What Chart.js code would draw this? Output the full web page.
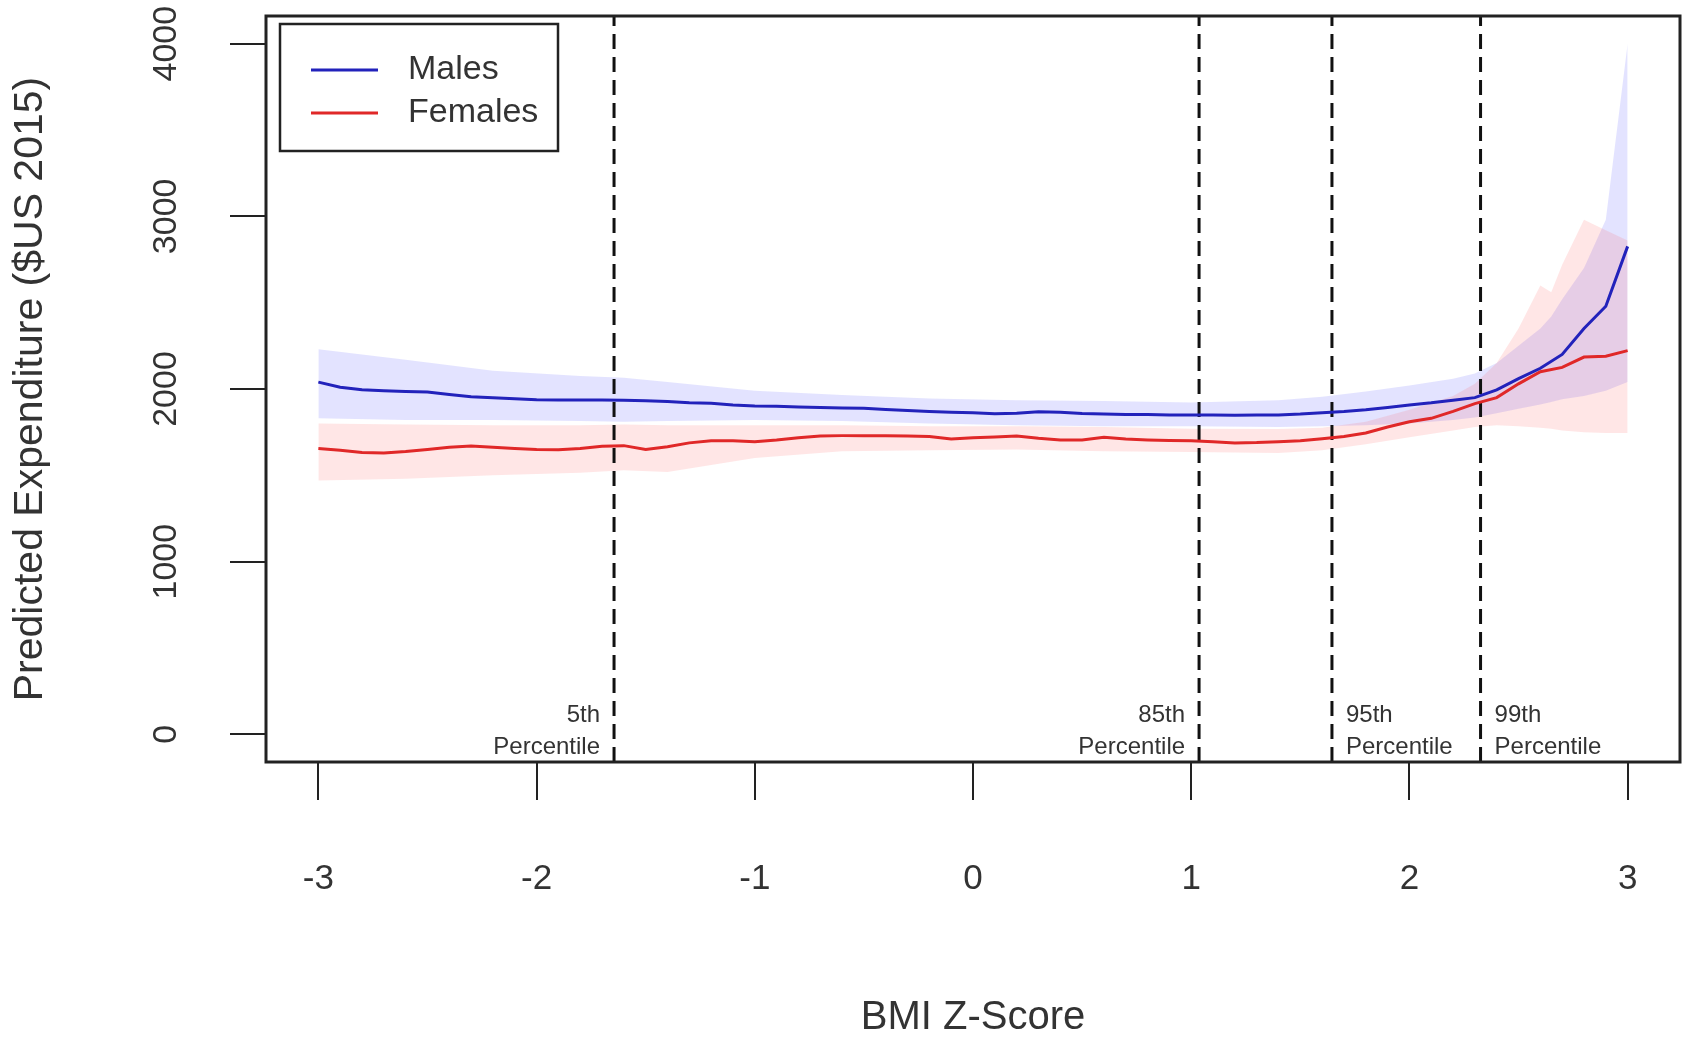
<!DOCTYPE html>
<html>
<head>
<meta charset="utf-8">
<script src="https://cdn.jsdelivr.net/npm/chart.js@4.4.1/dist/chart.umd.min.js"></script>
<style>
  html, body { margin: 0; padding: 0; background: #fff; }
  #wrap { width: 1683px; height: 1038px; }
</style>
</head>
<body>
<div id="wrap"><canvas id="chart" width="1683" height="1038"></canvas></div>
<script>
// BMI z-score grid for the fitted lines
const zScores = [
  -3.0, -2.9, -2.8, -2.7, -2.6, -2.5, -2.4, -2.3, -2.2, -2.1,
  -2.0, -1.9, -1.8, -1.7, -1.6, -1.5, -1.4, -1.3, -1.2, -1.1,
  -1.0, -0.9, -0.8, -0.7, -0.6, -0.5, -0.4, -0.3, -0.2, -0.1,
   0.0,  0.1,  0.2,  0.3,  0.4,  0.5,  0.6,  0.7,  0.8,  0.9,
   1.0,  1.1,  1.2,  1.3,  1.4,  1.5,  1.6,  1.7,  1.8,  1.9,
   2.0,  2.1,  2.2,  2.3,  2.4,  2.5,  2.6,  2.7,  2.8,  2.9, 3.0
];
const malesExp = [
  2040, 2010, 1995, 1990, 1986, 1982, 1968, 1955, 1950, 1944,
  1938, 1937, 1936, 1936, 1935, 1932, 1928, 1920, 1918, 1908,
  1902, 1900, 1896, 1893, 1890, 1888, 1882, 1876, 1870, 1866,
  1862, 1856, 1860, 1868, 1866, 1858, 1855, 1853, 1852, 1850,
  1849, 1849, 1848, 1849, 1850, 1855, 1863, 1870, 1880, 1893,
  1908, 1920, 1935, 1950, 1995, 2060, 2120, 2200, 2350, 2479, 2826
];
const femalesExp = [
  1655, 1645, 1632, 1630, 1638, 1650, 1662, 1670, 1662, 1655,
  1650, 1648, 1655, 1668, 1672, 1650, 1665, 1688, 1700, 1700,
  1695, 1705, 1718, 1728, 1730, 1730, 1730, 1728, 1725, 1710,
  1718, 1722, 1728, 1715, 1705, 1705, 1720, 1710, 1705, 1702,
  1700, 1695, 1688, 1690, 1695, 1700, 1712, 1725, 1745, 1780,
  1810, 1830, 1870, 1915, 1950, 2030, 2100, 2125, 2185, 2190, 2222
];

// confidence bands
const bandZ = [-3.0, -2.6, -2.2, -1.8, -1.6, -1.4, -1.0, -0.6, -0.2, 0.2, 0.6, 1.0, 1.4,
               1.6, 1.8, 2.0, 2.2, 2.3, 2.4, 2.5, 2.6, 2.65, 2.7, 2.8, 2.9, 3.0];
const malesUpper = [2230, 2170, 2105, 2075, 2065, 2040, 1990, 1965, 1945, 1935, 1930, 1922, 1935,
                    1955, 1985, 2020, 2060, 2090, 2150, 2250, 2350, 2420, 2520, 2700, 2980, 4000];
const malesLower = [1830, 1820, 1820, 1815, 1810, 1815, 1820, 1815, 1800, 1790, 1785, 1785, 1780,
                    1785, 1790, 1800, 1820, 1835, 1860, 1885, 1910, 1925, 1940, 1960, 1990, 2040];
const femalesUpper = [1800, 1795, 1790, 1790, 1795, 1790, 1790, 1790, 1785, 1785, 1780, 1770, 1768,
                      1775, 1810, 1880, 1960, 2030, 2150, 2350, 2600, 2560, 2720, 2980, 2920, 2860];
const femalesLower = [1470, 1480, 1500, 1515, 1530, 1520, 1600, 1640, 1645, 1650, 1640, 1635, 1630,
                      1645, 1680, 1720, 1760, 1780, 1790, 1785, 1775, 1770, 1760, 1750, 1745, 1745];

// percentile cut points
const pctZ = [-1.645, 1.036, 1.645, 2.326];
const pctNames = ['5th', '85th', '95th', '99th'];
const pctSide = ['left', 'left', 'right', 'right'];

const xTicks = [-3, -2, -1, 0, 1, 2, 3];
const yTicks = [0, 1000, 2000, 3000, 4000];
const yMin = -160, yMax = 4160;

const FONT = '"Liberation Sans", Arial, Helvetica, sans-serif';
const MALE = '#2222bb';
const FEMALE = '#e02828';

const pts = (xs, ys) => xs.map((x, i) => ({ x: x, y: ys[i] }));

const datasets = [
  { label: 'Males', data: pts(zScores, malesExp), borderColor: MALE, borderWidth: 3, pointRadius: 0, fill: false, order: 0 },
  { label: 'Females', data: pts(zScores, femalesExp), borderColor: FEMALE, borderWidth: 3, pointRadius: 0, fill: false, order: 0 },
  { label: 'mu', data: pts(bandZ, malesUpper), borderWidth: 0, pointRadius: 0, fill: '+1', backgroundColor: 'rgba(60,60,255,0.14)', order: 3 },
  { label: 'ml', data: pts(bandZ, malesLower), borderWidth: 0, pointRadius: 0, fill: false, order: 3 },
  { label: 'fu', data: pts(bandZ, femalesUpper), borderWidth: 0, pointRadius: 0, fill: '+1', backgroundColor: 'rgba(255,60,60,0.13)', order: 2 },
  { label: 'fl', data: pts(bandZ, femalesLower), borderWidth: 0, pointRadius: 0, fill: false, order: 2 }
];
pctZ.forEach(z => {
  datasets.push({
    label: 'pct', data: [{ x: z, y: yMin }, { x: z, y: yMax }],
    borderColor: '#111', borderWidth: 3, borderDash: [15, 8], pointRadius: 0, fill: false, order: 1
  });
});

// text next to the percentile lines, plot frame and legend
const extras = {
  id: 'extras',
  afterDatasetsDraw(chart) {
    const { ctx, chartArea, scales: { x } } = chart;
    ctx.save();
    ctx.font = '24px ' + FONT;
    ctx.fillStyle = '#333';
    ctx.textBaseline = 'middle';
    pctZ.forEach((z, i) => {
      const px = x.getPixelForValue(z);
      const right = pctSide[i] === 'right';
      ctx.textAlign = right ? 'left' : 'right';
      const tx = right ? px + 14 : px - 14;
      ctx.fillText(pctNames[i], tx, chartArea.bottom - 47);
      ctx.fillText('Percentile', tx, chartArea.bottom - 15);
    });

    // frame
    ctx.strokeStyle = '#222';
    ctx.lineWidth = 3;
    ctx.strokeRect(chartArea.left, chartArea.top, chartArea.right - chartArea.left, chartArea.bottom - chartArea.top);

    // legend
    const lx = chartArea.left + 14, ly = chartArea.top + 8;
    ctx.fillStyle = '#fff';
    ctx.fillRect(lx, ly, 278, 127);
    ctx.lineWidth = 2.5;
    ctx.strokeRect(lx, ly, 278, 127);
    ctx.font = '34px ' + FONT;
    ctx.textAlign = 'left';
    [datasets[0], datasets[1]].forEach((d, i) => {
      const cy = ly + 46 + i * 43;
      ctx.strokeStyle = d.borderColor;
      ctx.lineWidth = 3;
      ctx.beginPath();
      ctx.moveTo(lx + 31, cy);
      ctx.lineTo(lx + 98, cy);
      ctx.stroke();
      ctx.fillStyle = '#333';
      ctx.fillText(d.label, lx + 128, cy);
    });
    ctx.restore();
  }
};

new Chart(document.getElementById('chart'), {
  type: 'line',
  data: { datasets: datasets },
  plugins: [extras],
  options: {
    responsive: false,
    animation: false,
    devicePixelRatio: 1,
    layout: { padding: { top: 16, right: 3, left: 0, bottom: 0 } },
    plugins: { legend: { display: false }, tooltip: { enabled: false } },
    elements: { line: { tension: 0 } },
    scales: {
      x: {
        type: 'linear',
        min: -3.24, max: 3.24,
        afterBuildTicks: s => { s.ticks = xTicks.map(v => ({ value: v })); },
        afterFit: s => { s.height = 276; s.paddingLeft = 0; s.paddingRight = 0; },
        border: { display: false },
        grid: { drawOnChartArea: false, drawTicks: true, tickLength: 38, color: '#222', lineWidth: 2 },
        ticks: {
          padding: 58,
          color: '#333',
          font: { family: FONT, size: 35 },
          maxRotation: 0,
          callback: v => String(v)
        },
        title: { display: true, text: 'BMI Z-Score', color: '#333', font: { family: FONT, size: 40, lineHeight: 1 }, padding: { bottom: 0 } }
      },
      y: {
        type: 'linear',
        min: yMin, max: yMax,
        afterBuildTicks: s => { s.ticks = yTicks.map(v => ({ value: v })); },
        afterFit: s => { s.width = 266; s.paddingTop = 0; s.paddingBottom = 0; },
        border: { display: false },
        grid: { drawOnChartArea: false, drawTicks: true, tickLength: 36, color: '#222', lineWidth: 2 },
        ticks: {
          minRotation: 90, maxRotation: 90,
          crossAlign: 'center',
          padding: 26,
          color: '#333',
          font: { family: FONT, size: 34 },
          callback: v => String(v)
        },
        title: { display: true, text: 'Predicted Expenditure ($US 2015)', color: '#333', font: { family: FONT, size: 41, lineHeight: 1 }, padding: { top: 10 } }
      }
    }
  }
});
</script>
</body>
</html>
